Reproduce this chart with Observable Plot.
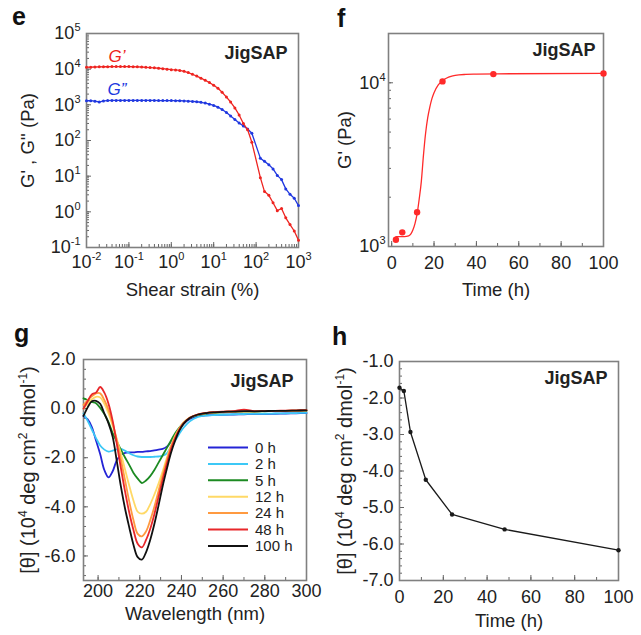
<!DOCTYPE html>
<html><head><meta charset="utf-8">
<script src="https://cdn.jsdelivr.net/npm/d3@7"></script>
<script src="https://cdn.jsdelivr.net/npm/@observablehq/plot@0.6"></script>
<style>
body{margin:0;background:#fff;}
#wrap{position:relative;width:641px;height:635px;overflow:hidden;background:#fff;}
#wrap > svg{position:absolute;}
</style></head><body><div id="wrap"></div>
<script>
const FONT = '"Liberation Sans", Arial, Helvetica, sans-serif';
const INK = "#222";

// ---------- panel e : strain sweep ----------
const strain = [0.01,0.0126,0.0158,0.02,0.0251,0.0316,0.0398,0.0501,0.0631,0.0794,
  0.1,0.126,0.158,0.2,0.251,0.316,0.398,0.501,0.631,0.794,
  1,1.26,1.58,2,2.51,3.16,3.98,5.01,6.31,7.94,
  10,12.6,15.8,20,25.1,31.6,39.8,50.1,63.1,79.4,
  126,158,200,251,316,398,501,631,794,1000];
const gPrime = [11300,11400,11500,11600,11700,11700,11800,11800,11800,11800,
  11800,11700,11600,11500,11300,11100,10900,10600,10300,10000,
  9700,9500,9200,8700,8000,7200,6400,5600,4900,4200,
  3550,2900,2250,1650,1200,820,520,300,200,89,
  9.1,3.7,2.9,1.8,1.08,1.24,0.68,0.44,0.29,0.16];
const gDouble = [1300,1310,1270,1200,1290,1320,1330,1330,1330,1330,
  1330,1330,1330,1330,1330,1330,1330,1320,1320,1320,
  1320,1310,1300,1290,1270,1250,1220,1180,1120,1040,
  960,860,740,610,490,390,310,255,210,160,
  32,26,21,16,10.5,8,4.4,3.1,2.4,1.5];
const eXTicks = [0.01,0.1,1,10,100,1000];
const eXTickLabels = ["10^{-2}","10^{-1}","10^{0}","10^{1}","10^{2}","10^{3}"];
const eYTicks = [0.1,1,10,100,1000,10000,100000];
const eYTickLabels = ["10^{-1}","10^{0}","10^{1}","10^{2}","10^{3}","10^{4}","10^{5}"];

// ---------- panel f : G' vs time ----------
const fTime = [2,5,12,24,48,100];
const fG = [1100,1220,1620,10200,11300,11400];
const fFitTime = [2,4,6,8,9,10,11,12,13,14,15,16,17,18,19,20,22,24,26,28,30,35,40,50,100];
const fFitG = [1150,1150,1150,1160,1190,1260,1380,1580,1950,2500,3600,4900,6100,7100,8000,8700,9700,10300,10700,10950,11100,11250,11300,11350,11400];
const fXTicks = [0,20,40,60,80,100];
const fYTicks = [1000,10000];
const fYTickLabels = ["10^{3}","10^{4}"];

// ---------- panel g : CD spectra ----------
const cdWavelength = [193,195,197,199,201,203,205,207,209,211,213,215,217,219,221,223,225,227,229,231,233,235,237,239,241,
  244,248,252,256,260,265,270,275,280,285,290,295,300];
const cd0h = [-0.3,-0.44,-0.75,-1.3,-1.85,-2.5,-2.8,-2.55,-2.1,-1.88,-1.8,-1.78,-1.78,-1.76,-1.76,-1.74,-1.73,-1.7,-1.67,-1.64,-1.55,-1.35,-1.1,-0.82,-0.62,
  -0.42,-0.31,-0.27,-0.26,-0.25,-0.24,-0.23,-0.22,-0.22,-0.21,-0.2,-0.19,-0.18];
const cd2h = [-0.2,-0.5,-0.85,-1.2,-1.5,-1.67,-1.75,-1.71,-1.66,-1.64,-1.72,-1.82,-1.9,-1.95,-1.97,-1.97,-1.97,-1.96,-1.95,-1.92,-1.82,-1.55,-1.3,-1.02,-0.78,
  -0.52,-0.34,-0.28,-0.26,-0.25,-0.23,-0.22,-0.21,-0.21,-0.2,-0.19,-0.18,-0.17];
const cd5h = [0.42,0.35,0.27,0.22,0.03,-0.22,-0.55,-1.0,-1.35,-1.68,-2.0,-2.3,-2.62,-2.85,-3.03,-2.93,-2.75,-2.5,-2.2,-1.9,-1.6,-1.3,-1.0,-0.77,-0.58,
  -0.38,-0.26,-0.2,-0.17,-0.15,-0.13,-0.12,-0.12,-0.11,-0.1,-0.1,-0.09,-0.08];
const cd12h = [0.0,0.2,0.38,0.48,0.45,0.2,-0.2,-0.7,-1.25,-1.85,-2.5,-3.15,-3.75,-4.2,-4.28,-4.2,-3.9,-3.5,-3.05,-2.55,-2.0,-1.5,-1.1,-0.8,-0.57,
  -0.36,-0.24,-0.18,-0.15,-0.13,-0.12,-0.11,-0.11,-0.1,-0.09,-0.09,-0.08,-0.07];
const cd24h = [0.15,0.35,0.5,0.62,0.62,0.35,-0.05,-0.6,-1.3,-2.1,-2.95,-3.8,-4.55,-5.1,-5.2,-5.0,-4.55,-4.0,-3.35,-2.7,-2.1,-1.55,-1.15,-0.82,-0.58,
  -0.37,-0.24,-0.18,-0.15,-0.13,-0.12,-0.11,-0.11,-0.1,-0.09,-0.09,-0.08,-0.07];
const cd48h = [0.0,0.3,0.58,0.65,0.88,0.65,0.2,-0.5,-1.45,-2.45,-3.4,-4.25,-4.95,-5.5,-5.65,-5.35,-4.9,-4.3,-3.6,-2.9,-2.25,-1.65,-1.2,-0.85,-0.6,
  -0.37,-0.23,-0.17,-0.14,-0.12,-0.1,-0.04,-0.1,-0.1,-0.09,-0.08,-0.07,-0.06];
const cd100h = [-0.3,0.05,0.3,0.32,0.2,-0.2,-0.6,-1.15,-2.15,-3.2,-4.1,-4.85,-5.55,-6.05,-6.15,-5.85,-5.35,-4.7,-3.95,-3.15,-2.45,-1.8,-1.3,-0.9,-0.62,
  -0.38,-0.24,-0.18,-0.15,-0.13,-0.12,-0.1,-0.11,-0.1,-0.09,-0.09,-0.08,-0.07];
const cdSeries = ["0 h","2 h","5 h","12 h","24 h","48 h","100 h"];
const cdColors = ["#2424d6","#3cc8f6","#1c8a22","#ffd966","#ff9a40","#e8272a","#111111"];
const cdValues = [cd0h,cd2h,cd5h,cd12h,cd24h,cd48h,cd100h];
const gXTicks = [200,220,240,260,280,300];
const gYTicks = [2,0,-2,-4,-6];

// ---------- panel h : ellipticity vs time ----------
const hTime = [0,2,5,12,24,48,100];
const hTheta = [-1.72,-1.81,-2.93,-4.24,-5.19,-5.6,-6.17];
const hXTicks = [0,20,40,60,80,100];
const hYTicks = [-1,-2,-3,-4,-5,-6,-7];

// ---------- helpers ----------
const wrap = document.getElementById("wrap");
function place(svg, left, top){ svg.style.left = left+"px"; svg.style.top = top+"px"; wrap.appendChild(svg); supify(svg); return svg; }
const baseStyle = {fontFamily: FONT, fontSize: "18px", color: INK, background: "transparent", overflow: "visible"};
const FRAME = Plot.frame({stroke: "#808080", strokeWidth: 1.6});
const TICK = "#666";

function supify(root){
  root.querySelectorAll("text").forEach(t => {
    const targets = t.querySelectorAll("tspan").length ? [...t.querySelectorAll("tspan")] : [t];
    targets.forEach(el => {
      const s = el.textContent;
      if (!s.includes("^{")) return;
      const fs = parseFloat(getComputedStyle(el).fontSize) || 18;
      const shift = Math.round(fs*0.42);
      el.textContent = "";
      const re = /\^\{([^}]*)\}/g; let last = 0, m, up = false;
      const add = (str, sup) => {
        const ts = document.createElementNS("http://www.w3.org/2000/svg","tspan");
        ts.textContent = str;
        if (sup) { ts.setAttribute("dy", -shift); ts.setAttribute("font-size", Math.round(fs*0.62)); up = true; }
        else if (up) { ts.setAttribute("dy", shift); up = false; }
        el.appendChild(ts);
      };
      while ((m = re.exec(s))) { if (m.index > last) add(s.slice(last, m.index), false); add(m[1], true); last = re.lastIndex; }
      if (last < s.length) add(s.slice(last), false);
    });
  });
}
const logAll = (lo, hi) => d3.scaleLog().domain([lo, hi]).ticks();
// inward ticks on the bottom / left edges of a frame of size W x H
const xTicksIn = (vals, H, len) => Plot.tickX(vals, {x: d => d, insetTop: H - len, stroke: TICK, strokeWidth: 1});
const yTicksIn = (vals, W, len) => Plot.tickY(vals, {y: d => d, insetRight: W - len, stroke: TICK, strokeWidth: 1});
const txt = (s, o) => Plot.text([s], {fill: INK, lineAnchor: "middle", ...o});

// ---------- panel e ----------
const eData = strain.map((s, i) => ({s, gp: gPrime[i], gpp: gDouble[i]}));
{
  const W = 212, H = 214;
  place(Plot.plot({
    width: 320, height: 310, marginLeft: 86, marginRight: 22, marginTop: 33, marginBottom: 63,
    style: baseStyle,
    x: {type: "log", domain: [0.01, 1000]},
    y: {type: "log", domain: [0.1, 100000]},
    marks: [
      Plot.axisX({ticks: eXTicks, tickFormat: d => eXTickLabels[eXTicks.indexOf(d)], tickSize: 0, tickPadding: 8, label: null}),
      Plot.axisY({ticks: eYTicks, tickFormat: d => eYTickLabels[eYTicks.indexOf(d)], tickSize: 0, tickPadding: 6, label: null}),
      xTicksIn(logAll(0.01, 1000), H, 3), xTicksIn(eXTicks, H, 5),
      yTicksIn(logAll(0.1, 100000), W, 3), yTicksIn(eYTicks, W, 5),
      FRAME,
      Plot.line(eData, {x: "s", y: "gpp", stroke: "#2038e0", strokeWidth: 1.3}),
      Plot.dot(eData, {x: "s", y: "gpp", r: 1.5, fill: "#2038e0"}),
      Plot.line(eData, {x: "s", y: "gp", stroke: "#ee2420", strokeWidth: 1.3}),
      Plot.dot(eData, {x: "s", y: "gp", r: 1.5, fill: "#ee2420"}),
      txt("G’", {frameAnchor: "top-left", dx: 22, dy: 23, textAnchor: "start", fill: "#ee2420", fontStyle: "italic", fontSize: 17}),
      txt("G”", {frameAnchor: "top-left", dx: 21, dy: 56, textAnchor: "start", fill: "#2038e0", fontStyle: "italic", fontSize: 17}),
      txt("JigSAP", {frameAnchor: "top-right", dx: -11, dy: 20, textAnchor: "end", fontWeight: "bold", fontSize: 18}),
      txt("Shear strain (%)", {frameAnchor: "bottom", dy: 43, textAnchor: "middle", fontSize: 18.5}),
      txt("G' , G'' (Pa)", {frameAnchor: "left", dx: -58, rotate: -90, textAnchor: "middle", fontSize: 18.5})
    ]
  }), 0, 0);
}

// ---------- panel f ----------
const fPts = fTime.map((t, i) => ({t, g: fG[i]}));
const fFit = fFitTime.map((t, i) => ({t, g: fFitG[i]}));
{
  const W = 215, H = 213;
  place(Plot.plot({
    width: 321, height: 310, marginLeft: 68, marginRight: 38, marginTop: 33, marginBottom: 64,
    style: baseStyle,
    x: {domain: [-1.5, 100]},
    y: {type: "log", domain: [1000, 20000]},
    marks: [
      Plot.axisX({ticks: fXTicks, tickFormat: d => String(d), tickSize: 0, tickPadding: 10, label: null}),
      Plot.axisY({ticks: fYTicks, tickFormat: d => fYTickLabels[fYTicks.indexOf(d)], tickSize: 0, tickPadding: 3, label: null}),
      xTicksIn(d3.range(0, 101, 10), H, 3), xTicksIn(fXTicks, H, 5),
      yTicksIn(logAll(1000, 20000), W, 3), yTicksIn(fYTicks, W, 5),
      FRAME,
      Plot.line(fFit, {x: "t", y: "g", stroke: "#ff2a2a", strokeWidth: 1.3, curve: "monotone-x"}),
      Plot.dot(fPts, {x: "t", y: "g", r: 3.2, fill: "#ff2a2a"}),
      txt("JigSAP", {frameAnchor: "top-right", dx: -8, dy: 17, textAnchor: "end", fontWeight: "bold", fontSize: 18}),
      txt("Time (h)", {frameAnchor: "bottom", dy: 44, textAnchor: "middle", fontSize: 18.5}),
      txt("G' (Pa)", {frameAnchor: "left", dx: -43, rotate: -90, textAnchor: "middle", fontSize: 18.5})
    ]
  }), 320, 0);
}

// ---------- panel g ----------
const cdData = cdSeries.flatMap((name, k) => cdWavelength.map((w, i) => ({w, v: cdValues[k][i], name})));
{
  const W = 223, H = 221;
  place(Plot.plot({
    width: 320, height: 315, marginLeft: 83, marginRight: 14, marginTop: 39, marginBottom: 55,
    style: baseStyle,
    x: {domain: [193, 300]},
    y: {domain: [-7, 2]},
    color: {domain: cdSeries, range: cdColors},
    marks: [
      Plot.axisX({ticks: gXTicks, tickFormat: d => String(d), tickSize: 0, tickPadding: 4, label: null}),
      Plot.axisY({ticks: gYTicks, tickFormat: d => d.toFixed(1), tickSize: 0, tickPadding: 8, label: null}),
      xTicksIn(d3.range(200, 301, 10), H, 3), xTicksIn(gXTicks, H, 5),
      yTicksIn(d3.range(0, 23).map(i => 2 - 0.4 * i), W, 3), yTicksIn(gYTicks, W, 5),
      FRAME,
      Plot.line(cdData, {x: "w", y: "v", z: "name", stroke: "name", strokeWidth: 1.8, curve: "catmull-rom"}),
      txt("JigSAP", {frameAnchor: "top-right", dx: -13, dy: 22, textAnchor: "end", fontWeight: "bold", fontSize: 18}),
      txt("Wavelength (nm)", {frameAnchor: "bottom", dy: 34, textAnchor: "middle", fontSize: 18.5}),
      txt("[θ] (10^{4} deg cm^{2} dmol^{-1})", {frameAnchor: "left", dx: -55, rotate: -90, textAnchor: "middle", fontSize: 20})
    ]
  }), 0, 320);
}

// ---------- panel h ----------
const hData = hTime.map((t, i) => ({t, v: hTheta[i]}));
{
  const W = 219, H = 219;
  place(Plot.plot({
    width: 321, height: 315, marginLeft: 79, marginRight: 23, marginTop: 41, marginBottom: 55,
    style: baseStyle,
    x: {domain: [0, 100]},
    y: {domain: [-7, -1]},
    marks: [
      Plot.axisX({ticks: hXTicks, tickFormat: d => String(d), tickSize: 0, tickPadding: 10, label: null}),
      Plot.axisY({ticks: hYTicks, tickFormat: d => d.toFixed(1), tickSize: 0, tickPadding: 6, label: null}),
      xTicksIn(d3.range(0, 101, 10), H, 3), xTicksIn(hXTicks, H, 5),
      yTicksIn(d3.range(0, 31).map(i => -1 - 0.2 * i), W, 3), yTicksIn(hYTicks, W, 5),
      FRAME,
      Plot.line(hData, {x: "t", y: "v", stroke: "#1a1a1a", strokeWidth: 1.3}),
      Plot.dot(hData, {x: "t", y: "v", r: 2.2, fill: "#1a1a1a"}),
      txt("JigSAP", {frameAnchor: "top-right", dx: -11, dy: 17, textAnchor: "end", fontWeight: "bold", fontSize: 18}),
      txt("Time (h)", {frameAnchor: "bottom", dy: 41, textAnchor: "middle", fontSize: 18.5}),
      txt("[θ] (10^{4} deg cm^{2} dmol^{-1})", {frameAnchor: "left", dx: -54, rotate: -90, textAnchor: "middle", fontSize: 20})
    ]
  }), 320, 320);
}

// ---------- overlay: panel letters + CD legend ----------
const ov = d3.create("svg").attr("width", 641).attr("height", 635)
  .style("left", "0px").style("top", "0px").style("pointer-events", "none")
  .style("font-family", FONT);
const letters = [["e", 12, 25], ["f", 337, 27], ["g", 14, 342], ["h", 332, 345]];
ov.selectAll("text.l").data(letters).join("text")
  .attr("x", d => d[1]).attr("y", d => d[2]).text(d => d[0])
  .attr("font-size", 25).attr("font-weight", "bold").attr("fill", "#111");
const lg = ov.append("g");
cdSeries.forEach((name, i) => {
  const y = 447.5 + i * 16.4;
  lg.append("line").attr("x1", 208).attr("x2", 248).attr("y1", y).attr("y2", y)
    .attr("stroke", cdColors[i]).attr("stroke-width", 2);
  lg.append("text").attr("x", 255).attr("y", y).attr("dy", "0.35em").text(name)
    .attr("font-size", 15).attr("fill", INK);
});
wrap.appendChild(ov.node());
</script></body></html>
